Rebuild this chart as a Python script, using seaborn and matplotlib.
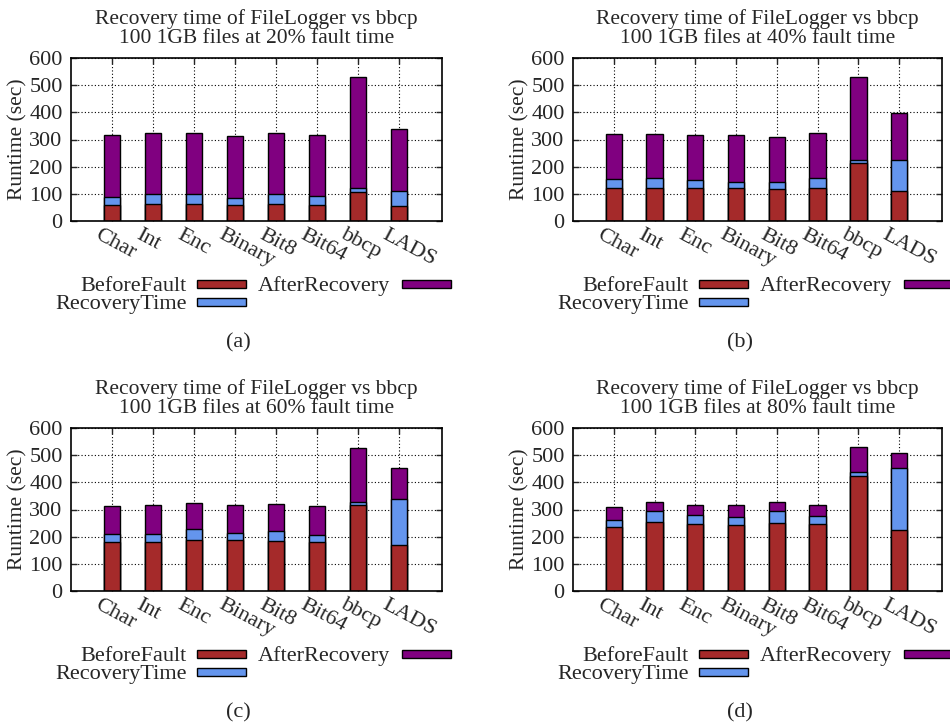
import matplotlib
matplotlib.use("Agg")
import matplotlib.pyplot as plt
from matplotlib.patches import Rectangle
from matplotlib.transforms import ScaledTranslation
import numpy as np
import pandas as pd
import seaborn as sns

# ---- data (seconds) ----
categories = ["Char", "Int", "Enc", "Binary", "Bit8", "Bit64", "bbcp", "LADS"]
fault_points = ["20%", "40%", "60%", "80%"]
subcaptions = ["(a)", "(b)", "(c)", "(d)"]
series_names = ["BeforeFault", "RecoveryTime", "AfterRecovery"]

before_20 = [59, 61, 61, 59, 61, 59, 106, 55]
recovery_20 = [29, 40, 40, 25, 40, 32, 14, 57]
after_20 = [227, 222, 222, 229, 222, 225, 410, 227]

before_40 = [120, 123, 120, 120, 118, 123, 213, 111]
recovery_40 = [36, 37, 31, 25, 25, 37, 12, 112]
after_40 = [166, 161, 165, 171, 166, 163, 306, 174]

before_60 = [181, 182, 189, 187, 184, 180, 316, 170]
recovery_60 = [27, 29, 38, 26, 37, 25, 12, 168]
after_60 = [104, 105, 96, 104, 100, 107, 199, 114]

before_80 = [237, 253, 245, 243, 252, 245, 422, 224]
recovery_80 = [24, 41, 33, 29, 41, 32, 16, 227]
after_80 = [49, 33, 40, 44, 34, 41, 93, 58]

panels = [
    (before_20, recovery_20, after_20),
    (before_40, recovery_40, after_40),
    (before_60, recovery_60, after_60),
    (before_80, recovery_80, after_80),
]

colors = {"BeforeFault": "#a52a2a", "RecoveryTime": "#6495ed", "AfterRecovery": "#800080"}

sns.set_style("white")
plt.rcParams["font.family"] = ["Liberation Serif", "DejaVu Serif"]

W, H = 950, 727
fig = plt.figure(figsize=(W / 100, H / 100), dpi=100)

# axes boxes in pixels: (left, right, top, bottom)
boxes = [(71, 442, 58, 221), (573, 942, 58, 221),
         (71, 442, 428, 591), (573, 942, 428, 591)]
caption_pos = [(238, 343), (740, 343), (238, 713), (740, 713)]

FS = 16
TFS = 15.5

for i, (box, (bf, rc, af)) in enumerate(zip(boxes, panels)):
    l, r, t, b = box
    ax = fig.add_axes([l / W, 1 - b / H, (r - l) / W, (b - t) / H])
    df = pd.DataFrame({
        "category": categories,
        "BeforeFault": bf,
        "RecoveryTime": rc,
        "AfterRecovery": af,
    })
    df["lvl_before"] = df["BeforeFault"]
    df["lvl_recovery"] = df["BeforeFault"] + df["RecoveryTime"]
    df["lvl_total"] = df["lvl_recovery"] + df["AfterRecovery"]

    # stacked bars: draw the full stack first, then overlay the lower segments
    for col, name in [("lvl_total", "AfterRecovery"),
                      ("lvl_recovery", "RecoveryTime"),
                      ("lvl_before", "BeforeFault")]:
        sns.barplot(data=df, x="category", y=col, order=categories,
                    color=colors[name], saturation=1, width=0.4,
                    edgecolor="black", linewidth=1.0, ax=ax, errorbar=None)

    ax.set_xlim(-1, 8.05)
    ax.set_ylim(0, 600)
    ax.set_yticks(np.arange(0, 601, 100))
    ax.set_axisbelow(True)
    ax.grid(True, linestyle=(0, (1, 2)), color="black", linewidth=0.8)
    for s in ax.spines.values():
        s.set_visible(True)
        s.set_color("black")
        s.set_linewidth(1.2)

    ax.tick_params(axis="y", direction="in", length=4, width=1, left=True,
                   right=True, labelsize=FS, pad=6)
    ax.tick_params(axis="x", direction="in", length=4, width=1, bottom=True,
                   top=True, labelsize=FS, pad=3)
    ax.set_xticks(range(len(categories)))
    ax.set_xticklabels(categories, rotation=-28, ha="left", va="top",
                       rotation_mode="anchor")
    shift = ScaledTranslation(-11 / 100, 0, fig.dpi_scale_trans)
    for lab in ax.get_xticklabels():
        lab.set_transform(lab.get_transform() + shift)

    ax.set_xlabel("")
    ax.set_ylabel("Runtime (sec)", fontsize=TFS)
    ax.yaxis.set_label_coords(-0.117, 0.5)

    ax.set_title(f"Recovery time of FileLogger vs bbcp\n100 1GB files at {fault_points[i]} fault time",
                 fontsize=TFS, pad=11, linespacing=1.0)

    # key below the plot: label text right-aligned, then colour sample
    row1 = b + 63
    row2 = b + 81
    entries = [("BeforeFault", l + 116, l + 126, row1),
               ("RecoveryTime", l + 116, l + 126, row2),
               ("AfterRecovery", l + 319, l + 331, row1)]
    for name, tx, sx, ry in entries:
        fig.text(tx / W, 1 - ry / H, name, ha="right", va="center_baseline",
                 fontsize=FS)
        fig.add_artist(Rectangle((sx / W, 1 - (ry + 4) / H), 49 / W, 8 / H,
                                 transform=fig.transFigure,
                                 facecolor=colors[name], edgecolor="black",
                                 linewidth=1.0))

    cx, cy = caption_pos[i]
    fig.text(cx / W, 1 - cy / H, subcaptions[i], ha="center", va="center",
             fontsize=FS)

fig.savefig("out.png", dpi=100)
